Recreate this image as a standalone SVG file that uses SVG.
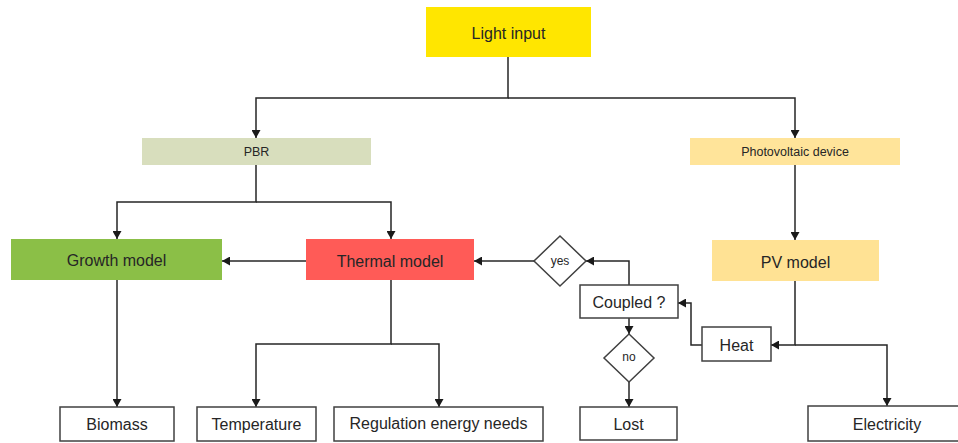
<svg xmlns="http://www.w3.org/2000/svg" width="958" height="443" viewBox="0 0 958 443">
<style>
text{font-family:"Liberation Sans",Arial,sans-serif;fill:#262626;text-anchor:middle;dominant-baseline:central}
.big{font-size:16px}
.small{font-size:12.5px}
.tiny{font-size:12px}
.box{fill:#fff;stroke:#404040;stroke-width:1.5}
.conn path{fill:none;stroke:#262626;stroke-width:1.5;marker-end:url(#ah)}
</style>
<defs>
<marker id="ah" markerUnits="userSpaceOnUse" markerWidth="9" markerHeight="9" refX="8" refY="4.5" orient="auto">
<path d="M0,0 L8,4.5 L0,9 z" fill="#1a1a1a"/>
</marker>
</defs>
<rect width="958" height="443" fill="#fff"/>
<g class="conn" id="connectors">
<path d="M508,57 V98 H256 V138"/>
<path d="M508,98 H795 V138"/>
<path d="M256,165 V202 H117 V239"/>
<path d="M256,202 H391 V239"/>
<path d="M795,165 V240"/>
<path d="M306,261 H222"/>
<path d="M534,261 H474"/>
<path d="M629,285 V261 H586"/>
<path d="M629,318 V334"/>
<path d="M629,382 V407"/>
<path d="M702,345 H691 V303 H678"/>
<path d="M795,281 V345 H771"/>
<path d="M795,345 H887 V406"/>
<path d="M117,280 V407"/>
<path d="M391,280 V344 H256 V407"/>
<path d="M391,344 H439 V407"/>
</g>
<g id="light-input"><rect x="426" y="7" width="165" height="50" fill="#FFE600"/><text class="big" x="508.5" y="33">Light input</text></g>
<g id="pbr"><rect x="142" y="138" width="229" height="27" fill="#D8DEBD"/><text class="small" x="256.5" y="152">PBR</text></g>
<g id="photovoltaic-device"><rect x="690" y="138" width="210" height="27" fill="#FFE49A"/><text class="small" x="795" y="152">Photovoltaic device</text></g>
<g id="growth-model"><rect x="11" y="239" width="211" height="41" fill="#8BBF47"/><text class="big" x="116.5" y="260.5">Growth model</text></g>
<g id="thermal-model"><rect x="306" y="239" width="168" height="41" fill="#FF5B57"/><text class="big" x="390" y="261">Thermal model</text></g>
<g id="pv-model"><rect x="712" y="240" width="167" height="41" fill="#FFE294"/><text class="big" x="795.5" y="262">PV model</text></g>
<g id="yes"><path class="box" d="M560,236 L586,261 L560,286 L534,261 z"/><text class="tiny" x="560" y="261">yes</text></g>
<g id="coupled"><rect class="box" x="580" y="285" width="98" height="33"/><text class="big" x="629" y="302">Coupled ?</text></g>
<g id="no"><path class="box" d="M629,334 L654,358 L629,382 L604,358 z"/><text class="tiny" x="629" y="357">no</text></g>
<g id="heat"><rect class="box" x="702" y="327" width="69" height="34"/><text class="big" x="736.5" y="345">Heat</text></g>
<g id="biomass"><rect class="box" x="60" y="407" width="114" height="34"/><text class="big" x="117" y="424">Biomass</text></g>
<g id="temperature"><rect class="box" x="197" y="407" width="119" height="34"/><text class="big" x="256.5" y="424">Temperature</text></g>
<g id="regulation"><rect class="box" x="334" y="407" width="209" height="34"/><text class="big" x="438.5" y="423">Regulation energy needs</text></g>
<g id="lost"><rect class="box" x="580" y="407" width="97" height="33"/><text class="big" x="628.5" y="424">Lost</text></g>
<g id="electricity"><rect class="box" x="808" y="406" width="155" height="35"/><text class="big" x="887" y="424">Electricity</text></g>
</svg>
